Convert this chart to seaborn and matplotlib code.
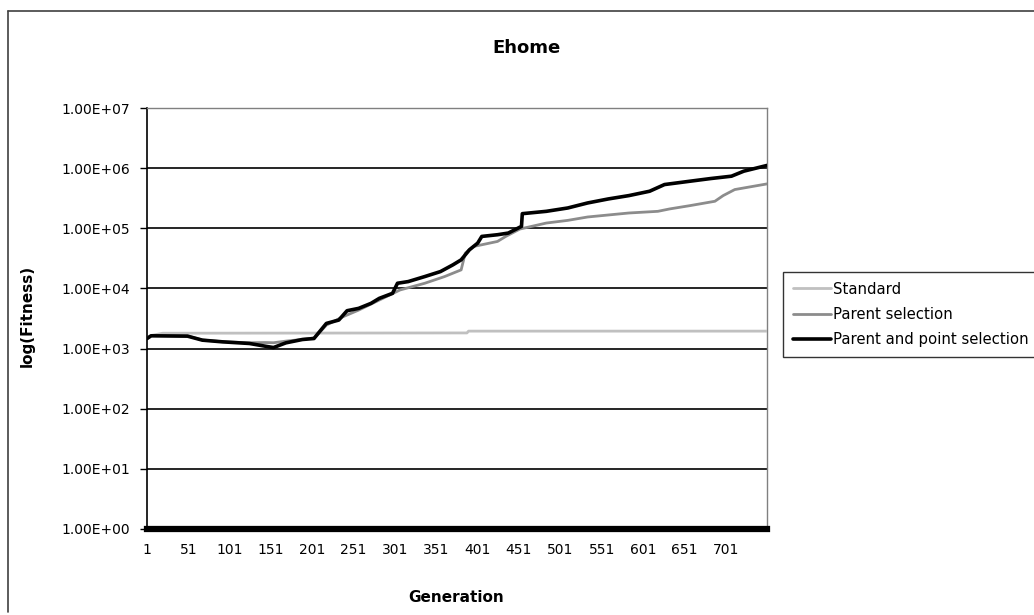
import matplotlib
matplotlib.use("Agg")
import matplotlib.pyplot as plt
import matplotlib.ticker as mticker
from matplotlib.lines import Line2D
import numpy as np
import pandas as pd
import seaborn as sns

# ---------------- data ----------------
std_gen = [1, 6, 20, 388, 390, 751]
std_val = [1480, 1650, 1800, 1820, 1950, 1950]

par_gen = [1, 6, 50, 68, 92, 125, 144, 154, 169, 189, 203, 208, 218, 238, 257,
           282, 307, 337, 361, 381, 386, 396, 406, 425, 435, 452, 484, 510, 534,
           559, 584, 619, 633, 658, 688, 698, 712, 751]
par_val = [1470, 1650, 1620, 1390, 1300, 1250, 1260, 1250, 1330, 1420, 1500,
           1750, 2455, 3380, 4360, 6410, 9420, 12190, 15750, 20340, 38620,
           49890, 53220, 60430, 73250, 97100, 122200, 135400, 154100, 166400,
           179600, 191400, 209500, 238300, 281400, 349700, 440500, 547000]

pps_gen = [1, 6, 50, 68, 92, 125, 144, 154, 169, 189, 203, 208, 218, 233, 243,
           257, 272, 282, 298, 304, 317, 337, 356, 371, 381, 391, 401, 406, 425,
           438, 450, 454, 455, 484, 510, 534, 559, 584, 609, 627, 658, 683, 708,
           723, 751]
pps_val = [1470, 1630, 1610, 1380, 1295, 1215, 1095, 1040, 1245, 1415, 1470,
           1785, 2620, 2980, 4260, 4660, 5650, 6840, 8290, 12190, 13000, 15750,
           19070, 24640, 29860, 43850, 56640, 73250, 78150, 83250, 100900,
           107600, 175000, 191400, 217600, 263700, 307500, 349700, 413000,
           533600, 606600, 671900, 734700, 891000, 1109000]

series_names = ["Standard", "Parent selection", "Parent and point selection"]
x_ticks = list(range(1, 702, 50))
y_ticks = [1, 10, 100, 1000, 1e4, 1e5, 1e6, 1e7]
y_tick_labels = ["1.00E+00", "1.00E+01", "1.00E+02", "1.00E+03",
                 "1.00E+04", "1.00E+05", "1.00E+06", "1.00E+07"]

df = pd.concat([
    pd.DataFrame({"Generation": std_gen, "Fitness": std_val, "Series": series_names[0]}),
    pd.DataFrame({"Generation": par_gen, "Fitness": par_val, "Series": series_names[1]}),
    pd.DataFrame({"Generation": pps_gen, "Fitness": pps_val, "Series": series_names[2]}),
], ignore_index=True)

# ---------------- style ----------------
sns.set_style("white")
plt.rcParams["font.family"] = ["DejaVu Sans"]
plt.rcParams["text.color"] = "black"
plt.rcParams["axes.labelcolor"] = "black"
plt.rcParams["xtick.color"] = "black"
plt.rcParams["ytick.color"] = "black"

W, H = 1034, 615
fig = plt.figure(figsize=(W / 100, H / 100), dpi=100)
L, R, T, B = 147, 767, 108, 529
ax = fig.add_axes([L / W, 1 - B / H, (R - L) / W, (B - T) / H])

palette = {series_names[0]: "#c0c0c0", series_names[1]: "#8c8c8c",
           series_names[2]: "#000000"}
widths = {series_names[0]: 2.0, series_names[1]: 2.0, series_names[2]: 2.6}

for name in series_names:
    sub = df[df["Series"] == name]
    sns.lineplot(data=sub, x="Generation", y="Fitness", ax=ax, color=palette[name],
                 linewidth=widths[name], estimator=None, sort=True, legend=False,
                 zorder=3 + series_names.index(name))

ax.set_yscale("log")
ax.set_ylim(1, 1e7)
ax.set_xlim(1, 751)

ax.yaxis.set_major_locator(mticker.FixedLocator(y_ticks))
ax.yaxis.set_major_formatter(mticker.FixedFormatter(y_tick_labels))
ax.yaxis.set_minor_locator(mticker.NullLocator())
ax.set_xticks(x_ticks)
ax.set_xticklabels([str(v) for v in x_ticks])

for v in y_ticks[1:-1]:
    ax.axhline(v, color="black", linewidth=1.2, zorder=1)

ax.tick_params(axis="y", which="major", direction="out", length=5, width=1,
               color="black", labelsize=10, pad=7, left=True, labelcolor="black")
ax.tick_params(axis="x", length=0, labelsize=10, pad=10, labelcolor="black")

for s in ["top", "right"]:
    ax.spines[s].set_color("#808080")
    ax.spines[s].set_linewidth(1.0)
ax.spines["left"].set_color("black")
ax.spines["left"].set_linewidth(1.2)
ax.spines["bottom"].set_color("black")
ax.spines["bottom"].set_linewidth(4.5)

ax.set_xlabel("Generation", fontsize=11, fontweight="bold", color="black")
ax.set_ylabel("log(Fitness)", fontsize=11, fontweight="bold", color="black")
ax.xaxis.set_label_coords((456 - L) / (R - L), (B - 590) / (B - T))
ax.yaxis.set_label_coords((35 - L) / (R - L), (B - 316) / (B - T))

fig.text(527 / W, 1 - 48 / H, "Ehome", fontsize=13, fontweight="bold",
         ha="center", va="center", color="black")

handles = [Line2D([0], [0], color=palette[n], linewidth=widths[n]) for n in series_names]
leg = fig.legend(handles, series_names, loc="upper left",
                 bbox_to_anchor=(783 / W, 1 - 272 / H), frameon=True,
                 fontsize=10.7, handlelength=2.6, handletextpad=0.12,
                 labelspacing=0.68, borderpad=0.65, borderaxespad=0, fancybox=False,
                 labelcolor="black")
leg.get_frame().set_edgecolor("black")
leg.get_frame().set_linewidth(1.0)

# outer chart frame
fig.add_artist(Line2D([8 / W, 8 / W], [1 - 11 / H, 1 - 612 / H], color="#404040",
                      linewidth=1.2, transform=fig.transFigure))
fig.add_artist(Line2D([8 / W, 1.0], [1 - 11 / H, 1 - 11 / H], color="#404040",
                      linewidth=1.2, transform=fig.transFigure))

fig.savefig("out.png", dpi=100)
